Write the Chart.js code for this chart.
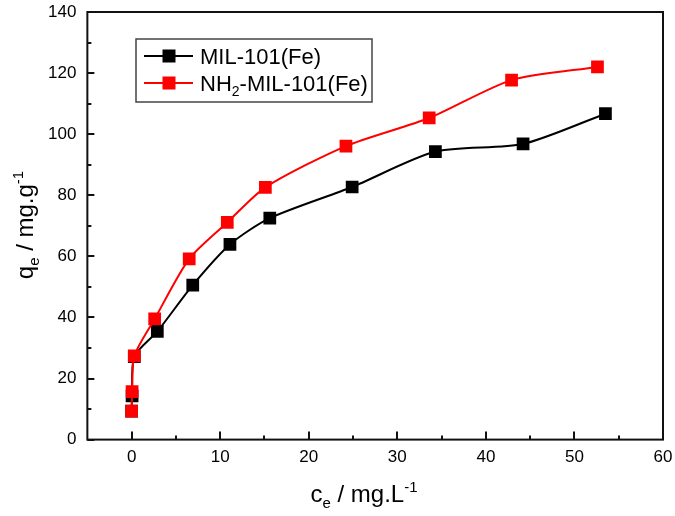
<!DOCTYPE html>
<html>
<head>
<meta charset="utf-8">
<script src="https://cdn.jsdelivr.net/npm/chart.js@4/dist/chart.umd.min.js"></script>
<style>
html,body{margin:0;padding:0;background:#fff;}
#wrap{width:675px;height:516px;}
</style>
</head>
<body>
<div id="wrap"><canvas id="c" width="675" height="516"></canvas></div>
<script>
// ---- data ----
const seriesNames = ['MIL-101(Fe)', 'NH2-MIL-101(Fe)'];
const milX = [0, 0.05, 0.3, 2.9, 6.9, 11.1, 15.6, 24.9, 34.3, 44.2, 53.5];
const milY = [9.3, 14.3, 27.2, 35.4, 50.6, 63.9, 72.5, 82.7, 94.3, 96.8, 106.7];
const nh2X = [0, 0.05, 0.3, 2.6, 6.5, 10.8, 15.1, 24.2, 33.6, 42.9, 52.6];
const nh2Y = [9.3, 15.7, 27.4, 39.5, 59.2, 71.1, 82.6, 96.1, 105.3, 117.7, 122.0];
const xTicks = [0, 10, 20, 30, 40, 50, 60];
const xMinorTicks = [5, 15, 25, 35, 45, 55];
const yTicks = [0, 20, 40, 60, 80, 100, 120, 140];
const yMinorTicks = [10, 30, 50, 70, 90, 110, 130];

const FONT = '"Liberation Sans", Arial, sans-serif';
const toPts = (xs, ys) => xs.map((x, i) => ({x: x, y: ys[i]}));

const decor = {
  id: 'decor',
  afterDraw(chart) {
    const ctx = chart.ctx;
    const a = chart.chartArea;
    const xs = chart.scales.x, ys = chart.scales.y;
    ctx.save();
    // frame
    ctx.strokeStyle = '#111';
    ctx.lineWidth = 2;
    ctx.strokeRect(a.left, a.top, a.right - a.left, a.bottom - a.top);
    // inward ticks
    ctx.lineWidth = 2;
    ctx.beginPath();
    xTicks.forEach(v => { const p = Math.round(xs.getPixelForValue(v)); ctx.moveTo(p, a.bottom); ctx.lineTo(p, a.bottom - 8); });
    xMinorTicks.forEach(v => { const p = Math.round(xs.getPixelForValue(v)); ctx.moveTo(p, a.bottom); ctx.lineTo(p, a.bottom - 4); });
    yTicks.forEach(v => { const p = Math.round(ys.getPixelForValue(v)); ctx.moveTo(a.left, p); ctx.lineTo(a.left + 7, p); });
    yMinorTicks.forEach(v => { const p = Math.round(ys.getPixelForValue(v)); ctx.moveTo(a.left, p); ctx.lineTo(a.left + 4, p); });
    ctx.stroke();

    // legend
    const lx = 136, ly = 39, lw = 236, lh = 63;
    ctx.fillStyle = '#fff';
    ctx.fillRect(lx, ly, lw, lh);
    ctx.strokeStyle = '#444';
    ctx.lineWidth = 1.5;
    ctx.strokeRect(lx, ly, lw, lh);
    const items = chart.data.datasets;
    const rows = [56, 83];
    items.forEach((ds, i) => {
      const yy = rows[i];
      ctx.strokeStyle = ds.borderColor;
      ctx.lineWidth = 2;
      ctx.beginPath(); ctx.moveTo(144, yy); ctx.lineTo(193, yy); ctx.stroke();
      ctx.fillStyle = ds.pointBackgroundColor;
      ctx.fillRect(169 - 6.5, yy - 6.5, 13, 13);
      ctx.fillStyle = '#000';
      ctx.textBaseline = 'alphabetic';
      ctx.textAlign = 'left';
      ctx.font = '22px ' + FONT;
      if (ds.label.indexOf('NH2') === 0) {
        let x = 200;
        ctx.fillText('NH', x, yy + 8); x += ctx.measureText('NH').width;
        ctx.font = '14px ' + FONT;
        ctx.fillText('2', x, yy + 13); x += ctx.measureText('2').width;
        ctx.font = '22px ' + FONT;
        ctx.fillText(ds.label.slice(3), x, yy + 8);
      } else {
        ctx.fillText(ds.label, 200, yy + 8);
      }
    });

    // axis titles
    function drawTitle(parts) {
      let w = 0;
      parts.forEach(p => { ctx.font = (p[1] === 'n' ? '24px ' : '15px ') + FONT; w += ctx.measureText(p[0]).width; });
      let x = -w / 2;
      parts.forEach(p => {
        ctx.font = (p[1] === 'n' ? '24px ' : '15px ') + FONT;
        const dy = p[1] === 'sub' ? 6 : (p[1] === 'sup' ? -10 : 0);
        ctx.fillText(p[0], x, dy);
        x += ctx.measureText(p[0]).width;
      });
    }
    ctx.fillStyle = '#000';
    ctx.textAlign = 'left';
    ctx.textBaseline = 'alphabetic';
    ctx.save();
    ctx.translate(364, 502);
    drawTitle([['c', 'n'], ['e', 'sub'], [' / mg.L', 'n'], ['-1', 'sup']]);
    ctx.restore();
    ctx.save();
    ctx.translate(33, 225);
    ctx.rotate(-Math.PI / 2);
    drawTitle([['q', 'n'], ['e', 'sub'], [' / mg.g', 'n'], ['-1', 'sup']]);
    ctx.restore();
    ctx.restore();
  }
};

new Chart(document.getElementById('c'), {
  type: 'scatter',
  data: {
    datasets: [
      {
        label: seriesNames[0],
        data: toPts(milX, milY),
        showLine: true,
        borderColor: '#000',
        backgroundColor: '#000',
        pointBackgroundColor: '#000',
        pointBorderColor: '#000',
        pointStyle: 'rect',
        pointRadius: 9,
        pointBorderWidth: 0,
        borderWidth: 2,
        tension: 0.25,
        order: 1
      },
      {
        label: seriesNames[1],
        data: toPts(nh2X, nh2Y),
        showLine: true,
        borderColor: '#ff0000',
        backgroundColor: '#ff0000',
        pointBackgroundColor: '#ff0000',
        pointBorderColor: '#ff0000',
        pointStyle: 'rect',
        pointRadius: 9,
        pointBorderWidth: 0,
        borderWidth: 2,
        tension: 0.25,
        order: 0
      }
    ]
  },
  options: {
    responsive: false,
    animation: false,
    devicePixelRatio: 1,
    layout: {padding: {left: 37, right: 12, top: 12, bottom: 40}},
    plugins: {legend: {display: false}, tooltip: {enabled: false}},
    scales: {
      x: {
        type: 'linear', min: -5, max: 60,
        afterBuildTicks: s => { s.ticks = xTicks.map(v => ({value: v})); },
        afterFit: s => { s.paddingLeft = 0; s.paddingRight = 0; },
        grid: {display: false, drawTicks: false},
        border: {display: false},
        ticks: {color: '#000', font: {family: FONT, size: 17}, padding: 8, maxRotation: 0, autoSkip: false}
      },
      y: {
        type: 'linear', min: 0, max: 140,
        afterBuildTicks: s => { s.ticks = yTicks.map(v => ({value: v})); },
        afterFit: s => { s.paddingTop = 0; s.paddingBottom = 0; },
        grid: {display: false, drawTicks: false},
        border: {display: false},
        ticks: {color: '#000', font: {family: FONT, size: 17}, padding: 11, autoSkip: false}
      }
    }
  },
  plugins: [decor]
});
</script>
</body>
</html>
